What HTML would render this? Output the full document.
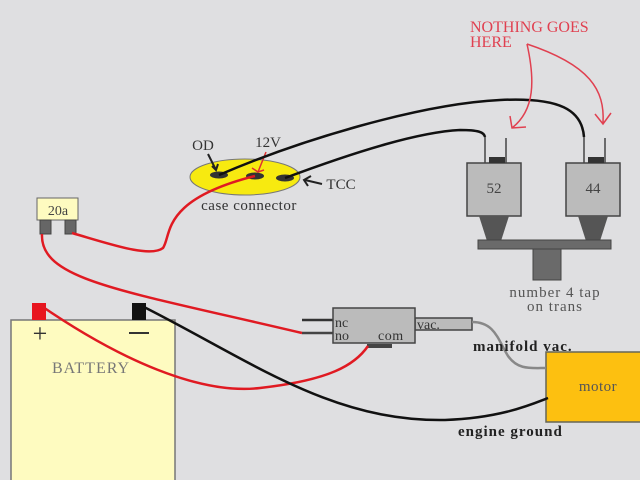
<!DOCTYPE html>
<html><head><style>body{margin:0;background:#dfdfe1}svg{display:block}text{font-family:"Liberation Serif",serif}</style></head>
<body>
<svg width="640" height="480" viewBox="0 0 640 480">
<rect width="640" height="480" fill="#dfdfe1"/>
<!-- battery -->
<rect x="11" y="320" width="164" height="170" fill="#fefbc0" stroke="#777" stroke-width="1.5"/>
<rect x="32" y="303" width="14" height="17" fill="#e8141e"/>
<rect x="132" y="303" width="14" height="17" fill="#111"/>
<text x="40" y="342" font-size="26" text-anchor="middle" fill="#333">+</text>
<line x1="129" y1="333" x2="149" y2="333" stroke="#333" stroke-width="2"/>
<text x="91" y="373" font-size="16" text-anchor="middle" fill="#777" letter-spacing="1">BATTERY</text>
<!-- fuse -->
<rect x="37" y="198" width="41" height="22" fill="#fefbc0" stroke="#666"/>
<text x="58" y="215" font-size="14" text-anchor="middle" fill="#444" font-family="Liberation Sans">20a</text>
<rect x="40" y="220" width="11" height="14" fill="#666" stroke="#444"/>
<rect x="65" y="220" width="11" height="14" fill="#666" stroke="#444"/>
<!-- case connector -->
<ellipse cx="245" cy="177" rx="55" ry="18" fill="#f7ea10" stroke="#777"/>
<ellipse cx="219" cy="175" rx="9" ry="3.5" fill="#333"/>
<ellipse cx="255" cy="176" rx="9" ry="3.5" fill="#333"/>
<ellipse cx="285" cy="178" rx="9" ry="3.5" fill="#333"/>
<text x="203" y="150" font-size="15" text-anchor="middle" fill="#333">OD</text>
<text x="268" y="147" font-size="15" text-anchor="middle" fill="#333">12V</text>
<text x="341" y="189" font-size="15" text-anchor="middle" fill="#333">TCC</text>
<text x="249" y="210" font-size="15" text-anchor="middle" fill="#333" letter-spacing="0.5">case connector</text>
<path d="M208 154 L216 170 M212 166 L216 170 L218 164" stroke="#222" stroke-width="2" fill="none"/>
<path d="M266 152 L258 172 M252 168 L258 172 L264 170" stroke="#e03030" stroke-width="1.5" fill="none"/>
<path d="M322 184 L305 180 M308 186 L304 180 L311 176" stroke="#222" stroke-width="2" fill="none"/>
<!-- switches -->
<g fill="#bbb" stroke="#444" stroke-width="1.5">
<line x1="485" y1="137" x2="485" y2="163"/><line x1="506" y1="138" x2="506" y2="163"/>
<line x1="584" y1="137" x2="584" y2="163"/><line x1="605" y1="138" x2="605" y2="163"/>
<rect x="467" y="163" width="54" height="53"/>
<rect x="566" y="163" width="54" height="53"/>
</g>
<rect x="489" y="157" width="16" height="6" fill="#333"/>
<rect x="588" y="157" width="16" height="6" fill="#333"/>
<polygon points="479,216 509,216 501,241 487,241" fill="#555"/>
<polygon points="578,216 608,216 600,241 586,241" fill="#555"/>
<rect x="478" y="240" width="133" height="9" fill="#6a6a6a" stroke="#444"/>
<rect x="533" y="249" width="28" height="31" fill="#6a6a6a" stroke="#444"/>
<text x="494" y="193" font-size="15" text-anchor="middle" fill="#444">52</text>
<text x="593" y="193" font-size="15" text-anchor="middle" fill="#444">44</text>
<text x="555" y="297" font-size="15" text-anchor="middle" fill="#555" letter-spacing="1">number 4 tap</text>
<text x="555" y="311" font-size="15" text-anchor="middle" fill="#555" letter-spacing="1">on trans</text>
<!-- vacuum switch -->
<line x1="302" y1="320" x2="333" y2="320" stroke="#333" stroke-width="2.5"/>
<line x1="302" y1="333" x2="333" y2="333" stroke="#444" stroke-width="2.5"/>
<rect x="367" y="344" width="25" height="4" fill="#444"/>
<rect x="415" y="318" width="57" height="12" fill="#bbb" stroke="#444" stroke-width="1.5"/>
<rect x="333" y="308" width="82" height="35" fill="#bbb" stroke="#444" stroke-width="1.5"/>
<text x="335" y="327" font-size="14" fill="#333">nc</text>
<text x="335" y="340" font-size="14" fill="#333">no</text>
<text x="378" y="340" font-size="14" fill="#333" letter-spacing="0.5">com</text>
<text x="417" y="329" font-size="14" fill="#333">vac.</text>
<!-- motor -->
<rect x="546" y="352" width="96" height="70" fill="#fdc010" stroke="#665" stroke-width="1.5"/>
<text x="598" y="391" font-size="15" text-anchor="middle" fill="#555" letter-spacing="0.5">motor</text>
<!-- wires -->
<g fill="none" stroke-width="2.5">
<path d="M219 175 C300 140 420 104 500 100 C560 97 582 110 584 137" stroke="#111"/>
<path d="M285 178 C360 150 420 132 460 130 C478 130 484 132 485 137" stroke="#111"/>
<path d="M72 233 C110 244 150 258 163 248 C172 235 160 200 255 176" stroke="#e01a22"/>
<path d="M42 234 C40 280 120 290 302 333" stroke="#e01a22"/>
<path d="M40 305 C120 360 200 395 260 388 C330 380 355 365 368 346" stroke="#e01a22"/>
<path d="M140 305 C250 360 330 422 445 420 C500 418 530 405 548 398" stroke="#111"/>
<path d="M472 322 C495 322 498 340 508 356 C518 370 530 368 546 368" stroke="#888"/>
</g>
<text x="473" y="351" font-size="15" font-weight="bold" fill="#222" letter-spacing="1">manifold vac.</text>
<text x="458" y="436" font-size="15" font-weight="bold" fill="#222" letter-spacing="1">engine ground</text>
<!-- note -->
<text x="470" y="32" font-size="16" fill="#e04050">NOTHING GOES</text>
<text x="470" y="47" font-size="16" fill="#e04050">HERE</text>
<g fill="none" stroke="#e04050" stroke-width="1.5">
<path d="M527 44 C535 80 535 110 512 128 M510 116 L512 128 L526 127"/>
<path d="M527 44 C590 65 605 90 603 123 M595 114 L603 124 L611 113"/>
</g>
</svg>
</body></html>
